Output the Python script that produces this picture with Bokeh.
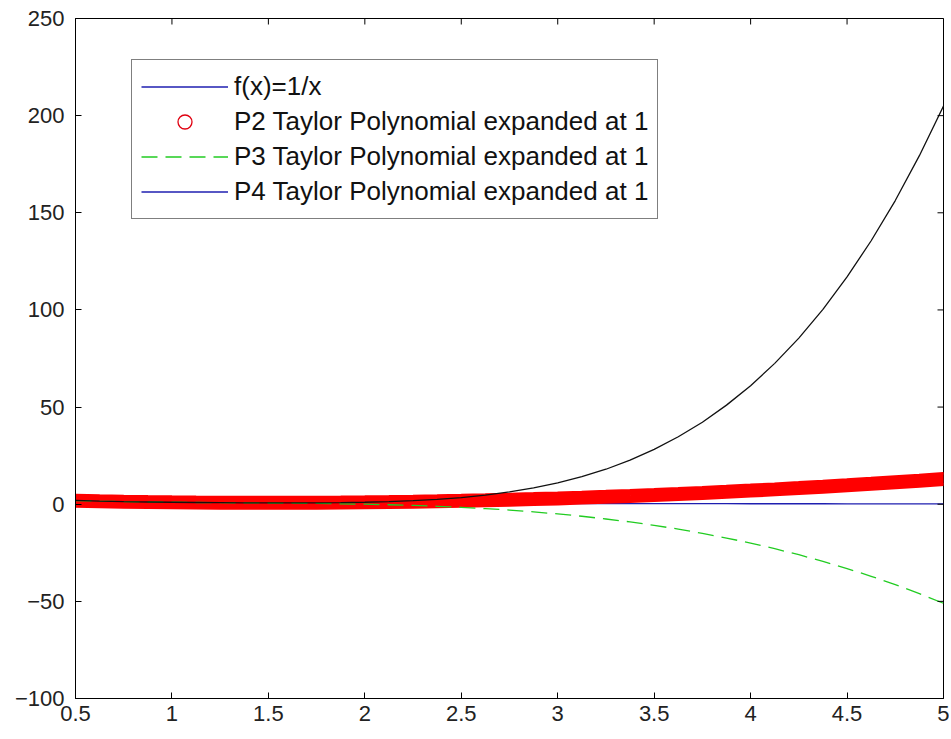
import math
from bokeh.plotting import figure
from bokeh.models import Legend, LegendItem, Range1d, FixedTicker
from bokeh.embed import file_html
from bokeh.resources import INLINE

# values
x_vals = [0.5, 0.625, 0.75, 0.875, 1.0, 1.125, 1.25, 1.375, 1.5, 1.625, 1.75,
          1.875, 2.0, 2.125, 2.25, 2.375, 2.5, 2.625, 2.75, 2.875, 3.0,
          3.125, 3.25, 3.375, 3.5, 3.625, 3.75, 3.875, 4.0, 4.125, 4.25,
          4.375, 4.5, 4.625, 4.75, 4.875, 5.0]
f_vals = [2.0, 1.6, 1.33, 1.14, 1.0, 0.89, 0.8, 0.73, 0.67, 0.62, 0.57,
          0.53, 0.5, 0.47, 0.44, 0.42, 0.4, 0.38, 0.36, 0.35, 0.33,
          0.32, 0.31, 0.3, 0.29, 0.28, 0.27, 0.26, 0.25, 0.24, 0.24,
          0.23, 0.22, 0.22, 0.21, 0.21, 0.2]
p2_vals = [1.75, 1.52, 1.31, 1.14, 1.0, 0.89, 0.81, 0.77, 0.75, 0.77, 0.81,
           0.89, 1.0, 1.14, 1.31, 1.52, 1.75, 2.02, 2.31, 2.64, 3.0,
           3.39, 3.81, 4.27, 4.75, 5.27, 5.81, 6.39, 7.0, 7.64, 8.31,
           9.02, 9.75, 10.5, 11.3, 12.1, 13.0]
p3_vals = [1.88, 1.57, 1.33, 1.14, 1.0, 0.89, 0.8, 0.71, 0.63, 0.52, 0.39,
           0.22, 0.0, -0.28, -0.64, -1.08, -1.6, -2.3, -3.0, -3.95, -5.0,
           -6.2, -7.6, -9.1, -10.9, -12.8, -15.0, -17.4, -20.0, -22.9, -26.0,
           -29.4, -33.1, -37.1, -41.4, -46.0, -51.0]
p4_vals = [1.94, 1.59, 1.33, 1.14, 1.0, 0.89, 0.8, 0.73, 0.69, 0.67, 0.71,
           0.81, 1.0, 1.32, 1.8, 2.5, 3.4, 4.7, 6.3, 8.4, 11.0,
           14.2, 18.0, 22.7, 28.2, 34.7, 42.2, 51.0, 61.0, 72.5, 85.5,
           100.3, 117.0, 135.6, 156.3, 179.4, 205.0]

x_ticks = [0.5, 1, 1.5, 2, 2.5, 3, 3.5, 4, 4.5, 5]
y_ticks = [-100, -50, 0, 50, 100, 150, 200, 250]
labels = ["f(x)=1/x",
          "P2 Taylor Polynomial expanded at 1",
          "P3 Taylor Polynomial expanded at 1",
          "P4 Taylor Polynomial expanded at 1"]

FONT = "Liberation Sans"
X0, X1, Y0, Y1 = 0.5, 5, -100, 250

p = figure(frame_width=868, frame_height=680,
           x_range=Range1d(X0, X1), y_range=Range1d(Y0, Y1),
           output_backend="svg", toolbar_location=None,
           min_border_left=75, min_border_top=18, min_border_right=6,
           min_border_bottom=30)
p.background_fill_color = "white"
p.border_fill_color = "white"
p.outline_line_color = "black"
p.outline_line_width = 1
p.xgrid.visible = False
p.ygrid.visible = False

for ax in (p.xaxis[0], p.yaxis[0]):
    ax.major_tick_in = 6
    ax.major_tick_out = 0
    ax.minor_tick_in = 0
    ax.minor_tick_out = 0
    ax.axis_line_color = "black"
    ax.major_tick_line_color = "black"
    ax.major_label_text_font = FONT
    ax.major_label_text_font_size = "22px"
    ax.major_label_text_color = "#222222"
p.xaxis[0].ticker = FixedTicker(ticks=x_ticks)
p.yaxis[0].ticker = FixedTicker(ticks=y_ticks)
p.xaxis[0].major_label_standoff = 7
p.yaxis[0].major_label_standoff = 11

r_f = p.line(x_vals, f_vals, line_color="#1f1fb0", line_width=1.3)
r_p2c = p.scatter(x_vals, p2_vals, marker="circle", size=10, fill_color=None,
                  line_color="#e00010", line_width=1.3)
r_p2 = p.line(x_vals, p2_vals, line_color="#ff0000", line_width=14, line_cap="round")
r_p3 = p.line(x_vals, p3_vals, line_color="#22cc22", line_width=1.3, line_dash="16 8")
r_p4 = p.line(x_vals, p4_vals, line_color="#111111", line_width=1.3)

# inner tick marks on the top and right sides of the box (clipped to the frame)
p.scatter(x_ticks, [Y1] * len(x_ticks), marker="dash", size=12, angle=math.pi / 2,
          line_color="black", line_width=1)
p.scatter([X1] * len(y_ticks), y_ticks, marker="dash", size=12,
          line_color="black", line_width=1)

legend = Legend(items=[LegendItem(label=labels[0], renderers=[r_f]),
                       LegendItem(label=labels[1], renderers=[r_p2c]),
                       LegendItem(label=labels[2], renderers=[r_p3]),
                       LegendItem(label=labels[3], renderers=[r_f])],
                location=(56, 479), padding=9, spacing=0,
                label_height=35, glyph_height=35, glyph_width=87,
                label_standoff=6, margin=0,
                label_text_font=FONT, label_text_font_size="26px",
                label_text_color="#111111",
                border_line_color="black", border_line_width=1,
                background_fill_color="white", background_fill_alpha=1.0)
p.add_layout(legend, "center")

open("out.html", "w").write(file_html(p, INLINE))
